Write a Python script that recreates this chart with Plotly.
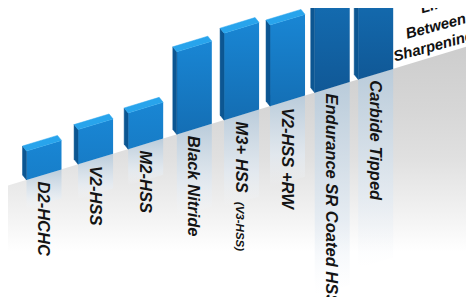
import plotly.graph_objects as go

# ---------------- data ----------------
categories = ["D2-HCHC", "V2-HSS", "M2-HSS", "Black Nitride", "M3+ HSS",
              "V2-HSS +RW", "Endurance SR Coated HSS", "Carbide Tipped"]
category_notes = ["", "", "", "", "(V3-HSS)", "", "", ""]
life_between_sharpening = [1.0, 1.2, 1.25, 2.85, 3.0, 2.8, 7.0, 6.5]
title_lines = ["Life", "Between", "Sharpening"]

# ---------------- geometry (perspective view) ----------------
W, H = 474, 297
PX_PER_X = 52.36
PX_PER_Y = 29.0
ORIGIN_PX = 36.0
FLOOR_PX = 166.7
FLOOR_SLOPE = 0.303
PERSP = 0.015
HALF_W = 17.5 / PX_PER_X
DEPTH_X = -4.0 / PX_PER_X
DEPTH_Y = 5.0 / PX_PER_Y

X_MIN = -ORIGIN_PX / PX_PER_X
X_MAX = (W - ORIGIN_PX) / PX_PER_X
Y_MAX = H / PX_PER_Y


def floor_y(x):
    return (H - FLOOR_PX) / PX_PER_Y + FLOOR_SLOPE * PX_PER_X / PX_PER_Y * x


def slot(i):
    return i / (1 + PERSP * i)


def mix(a, b, t):
    return tuple(round(a[k] + (b[k] - a[k]) * t) for k in range(3))


def rgb(c):
    return f"rgb({c[0]},{c[1]},{c[2]})"


def poly(xs, ys, **kw):
    return go.Scatter(x=list(xs) + [xs[0]], y=list(ys) + [ys[0]], mode="lines",
                      fill="toself", hoverinfo="skip", showlegend=False, **kw)


TOP_FACE = "rgb(40,164,236)"
SIDE_FACE = "rgb(12,86,146)"
FRONT_BRIGHT = (25, 134, 212)
FRONT_DARK = (16, 88, 150)

fig = go.Figure()

# floor with vertical gradient
fx0, fx1 = X_MIN - 0.2, X_MAX + 0.2
ftop = floor_y(X_MAX)
fig.add_trace(poly([fx0, fx0, fx1, fx1], [-0.5, floor_y(fx0), floor_y(fx1), -0.5],
                   line=dict(width=0),
                   fillgradient=dict(type="vertical", start=0, stop=ftop,
                                     colorscale=[[0, "rgb(255,255,255)"], [0.2, "rgb(255,255,255)"],
                                                 [0.37, "rgb(240,240,240)"], [0.56, "rgb(224,224,224)"],
                                                 [0.75, "rgb(214,214,214)"], [1, "rgb(204,204,204)"]])))

annotations = []
for i, (cat, note, v) in enumerate(zip(categories, category_notes, life_between_sharpening)):
    c = slot(i)
    xl, xr = c - HALF_W, c + HALF_W
    bl, br = floor_y(xl), floor_y(xr)
    tl, tr = bl + v, br + v

    # reflection on the floor
    fig.add_trace(poly([xl, xr, xr, xl], [bl, br, br - v, bl - v], line=dict(width=0),
                       fillgradient=dict(type="vertical", start=bl - v, stop=br,
                                         colorscale=[[0, "rgba(245,248,252,0)"],
                                                     [0.35, "rgba(226,234,242,0.75)"],
                                                     [1, "rgba(184,203,219,0.95)"]])))
    # front face
    frac = min(v * PX_PER_Y / 160.0, 1.0)
    bottom_col = mix(FRONT_BRIGHT, FRONT_DARK, frac)
    fig.add_trace(poly([xl, xr, xr, xl], [bl, br, tr, tl], line=dict(width=0),
                       fillgradient=dict(type="vertical", start=min(bl, br), stop=max(tl, tr),
                                         colorscale=[[0, rgb(bottom_col)], [1, rgb(FRONT_BRIGHT)]])))
    # left side
    fig.add_trace(poly([xl, xl, xl + DEPTH_X, xl + DEPTH_X], [bl, tl, tl + DEPTH_Y, bl + DEPTH_Y],
                       fillcolor=SIDE_FACE, line=dict(width=0.5, color=SIDE_FACE)))
    # top face
    fig.add_trace(poly([xl, xr, xr + DEPTH_X, xl + DEPTH_X], [tl, tr, tr + DEPTH_Y, tl + DEPTH_Y],
                       fillcolor=TOP_FACE, line=dict(width=0.5, color=TOP_FACE)))

    text = cat if not note else f"{cat}&nbsp; <span style='font-size:11.5px'>{note}</span>"
    annotations.append(dict(x=c, y=floor_y(c) - 0.15, xref="x", yref="y", text=text,
                            textangle=90, xanchor="center", yanchor="top", showarrow=False,
                            font=dict(family="Liberation Sans, Arial", size=16.5, color="#141414",
                                      weight="bold", style="italic")))

title_pos = [(425, -4), (428, 18), (425, 37)]
for line, (px, py) in zip(title_lines, title_pos):
    annotations.append(dict(x=px / W, y=1 - py / H, xref="paper", yref="paper", text=line,
                            textangle=-15, xanchor="center", yanchor="middle", showarrow=False,
                            font=dict(family="Liberation Sans, Arial", size=15, color="#111111",
                                      weight="bold", style="italic")))

fig.update_layout(
    width=W, height=H, margin=dict(l=0, r=0, t=0, b=0),
    paper_bgcolor="white", plot_bgcolor="white",
    xaxis=dict(range=[X_MIN, X_MAX], visible=False, fixedrange=True),
    yaxis=dict(range=[0, Y_MAX], visible=False, fixedrange=True),
    annotations=annotations, showlegend=False,
)

fig.write_html("out.html")
